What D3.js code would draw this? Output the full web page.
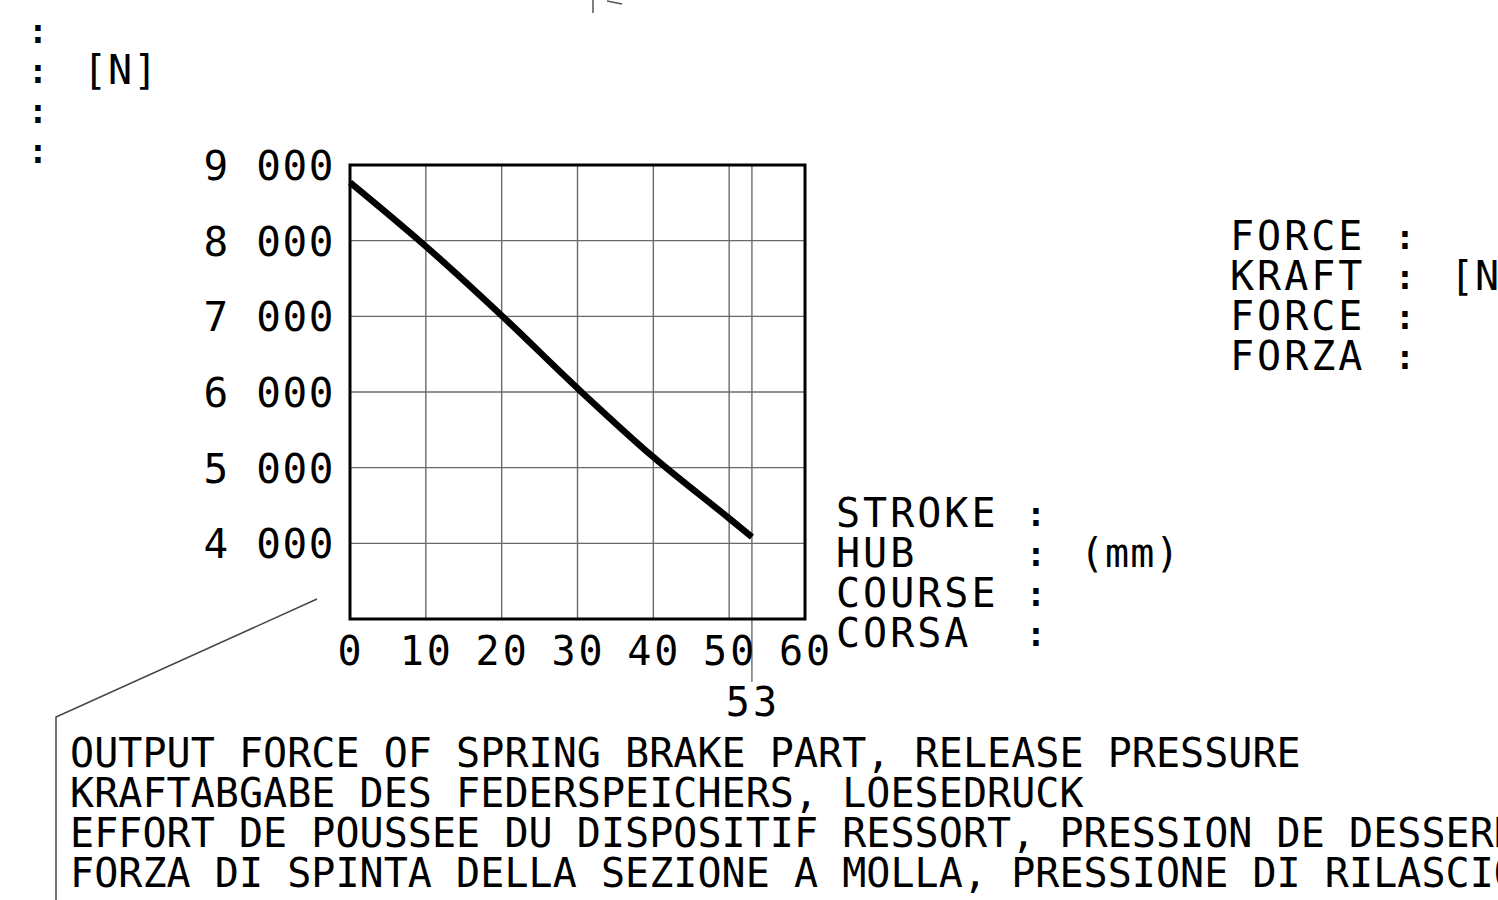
<!DOCTYPE html>
<html>
<head>
<meta charset="utf-8">
<script src="https://cdn.jsdelivr.net/npm/d3@7"></script>
<style>
	html, body { margin: 0; padding: 0; background: #fff; overflow: hidden; }
	svg text { font-family: "DejaVu Sans Mono", monospace; fill: #000; }
</style>
</head>
<body>
<div id="chart"></div>
<script>
const dest		= '#chart';

// stroke (mm) / force (N)
const stroke	= [0, 10, 20, 30, 40, 50, 53];
const force		= [8770, 7925, 7010, 6050, 5140, 4330, 4085];

const xTicks	= [0, 10, 20, 30, 40, 50, 60];
const yTicks	= [4000, 5000, 6000, 7000, 8000, 9000];
const xMark		= 53;

const forceLabels	= ['FORCE', 'KRAFT', 'FORCE', 'FORZA'];
const strokeLabels	= ['STROKE', 'HUB', 'COURSE', 'CORSA'];
const captions		= [
	'OUTPUT FORCE OF SPRING BRAKE PART, RELEASE PRESSURE',
	'KRAFTABGABE DES FEDERSPEICHERS, LOESEDRUCK',
	'EFFORT DE POUSSEE DU DISPOSITIF RESSORT, PRESSION DE DESSERRAGE',
	'FORZA DI SPINTA DELLA SEZIONE A MOLLA, PRESSIONE DI RILASCIO'
];

function createChart() {
	let svg = d3.select(dest).append('svg')
		.attr('width', 1498)
		.attr('height', 900);

	let margin	= { top: 165, left: 350 };
	let width	= 455;
	let height	= 454;

	let x = d3.scaleLinear().domain([0, 60]).range([0, width]);
	let y = d3.scaleLinear().domain([3000, 9000]).range([height, 0]);

	let g = svg.append('g')
		.attr('transform', 'translate(' + margin.left + ',' + margin.top + ')');

	// grid
	g.append('g').selectAll('line')
		.data(yTicks)
		.enter().append('line')
			.attr('x1', 0).attr('x2', width)
			.attr('y1', (d) => y(d)).attr('y2', (d) => y(d))
			.attr('stroke', '#6a6a6a').attr('stroke-width', 1.4);

	g.append('g').selectAll('line')
		.data(xTicks.slice(1, -1))
		.enter().append('line')
			.attr('x1', (d) => x(d)).attr('x2', (d) => x(d))
			.attr('y1', 0).attr('y2', height)
			.attr('stroke', '#6a6a6a').attr('stroke-width', 1.4);

	g.append('line')
		.attr('x1', x(xMark)).attr('x2', x(xMark))
		.attr('y1', 0).attr('y2', height + 63)
		.attr('stroke', '#6a6a6a').attr('stroke-width', 1.4);

	// frame
	g.append('rect')
		.attr('width', width).attr('height', height)
		.attr('fill', 'none').attr('stroke', '#000').attr('stroke-width', 3);

	// curve
	let line = d3.line()
		.x((d, i) => x(stroke[i]))
		.y((d) => y(d))
		.curve(d3.curveMonotoneX);

	g.append('path')
		.datum(force)
		.attr('d', line)
		.attr('fill', 'none')
		.attr('stroke', '#000')
		.attr('stroke-width', 6.5)
		.attr('stroke-linecap', 'butt');

	// tick labels
	g.append('g').selectAll('text')
		.data(yTicks)
		.enter().append('text')
			.attr('x', -15)
			.attr('y', (d) => y(d) + 15)
			.attr('text-anchor', 'end')
			.attr('font-size', 41)
			.attr('letter-spacing', 1.6)
			.text((d) => d3.format(',')(d).replace(',', ' '));

	g.append('g').selectAll('text')
		.data(xTicks)
		.enter().append('text')
			.attr('x', (d) => x(d) + 1)
			.attr('y', height + 46)
			.attr('text-anchor', 'middle')
			.attr('font-size', 40)
			.attr('letter-spacing', 3)
			.text((d) => d);

	g.append('text')
		.attr('x', x(xMark) + 1)
		.attr('y', height + 97)
		.attr('text-anchor', 'middle')
		.attr('font-size', 40)
		.attr('letter-spacing', 3)
		.text(xMark);

	// label blocks
	let block = (labels, x0, xc, y0, unit, xu, row) => {
		let b = svg.append('g');
		b.selectAll('.lbl')
			.data(labels)
			.enter().append('text')
				.attr('x', x0)
				.attr('y', (d, i) => y0 + i * 40)
				.attr('font-size', 40)
				.attr('letter-spacing', 3)
				.text((d) => d);
		b.selectAll('.col')
			.data(d3.range(4))
			.enter().append('text')
				.attr('x', xc)
				.attr('y', (d) => y0 + d * 40 - 1)
				.attr('font-size', 33)
				.attr('font-weight', 'bold')
				.attr('text-anchor', 'middle')
				.text(':');
		b.append('text')
			.attr('x', xu)
			.attr('y', y0 + row * 40)
			.attr('font-size', 40)
			.attr('letter-spacing', 1)
			.text(unit);
	};

	block(forceLabels, 1230, 1405, 250, '[N]', 1450, 1);
	block(strokeLabels, 836, 1036, 527, '(mm)', 1080, 1);
	block([], 0, 38, 44, '[N]', 83, 1);

	// leader
	svg.append('path')
		.attr('d', 'M317,599 L56,717 L56,900')
		.attr('fill', 'none').attr('stroke', '#444').attr('stroke-width', 1.5);

	svg.append('path')
		.attr('d', 'M593,0 L593,13 M607,1 L622,4')
		.attr('fill', 'none').attr('stroke', '#555').attr('stroke-width', 1.5);

	// caption
	svg.append('g').selectAll('text')
		.data(captions)
		.enter().append('text')
			.attr('x', 70)
			.attr('y', (d, i) => 767 + i * 40)
			.attr('font-size', 40)
			.attr('letter-spacing', 0.05)
			.text((d) => d);
}

createChart();
</script>
</body>
</html>
